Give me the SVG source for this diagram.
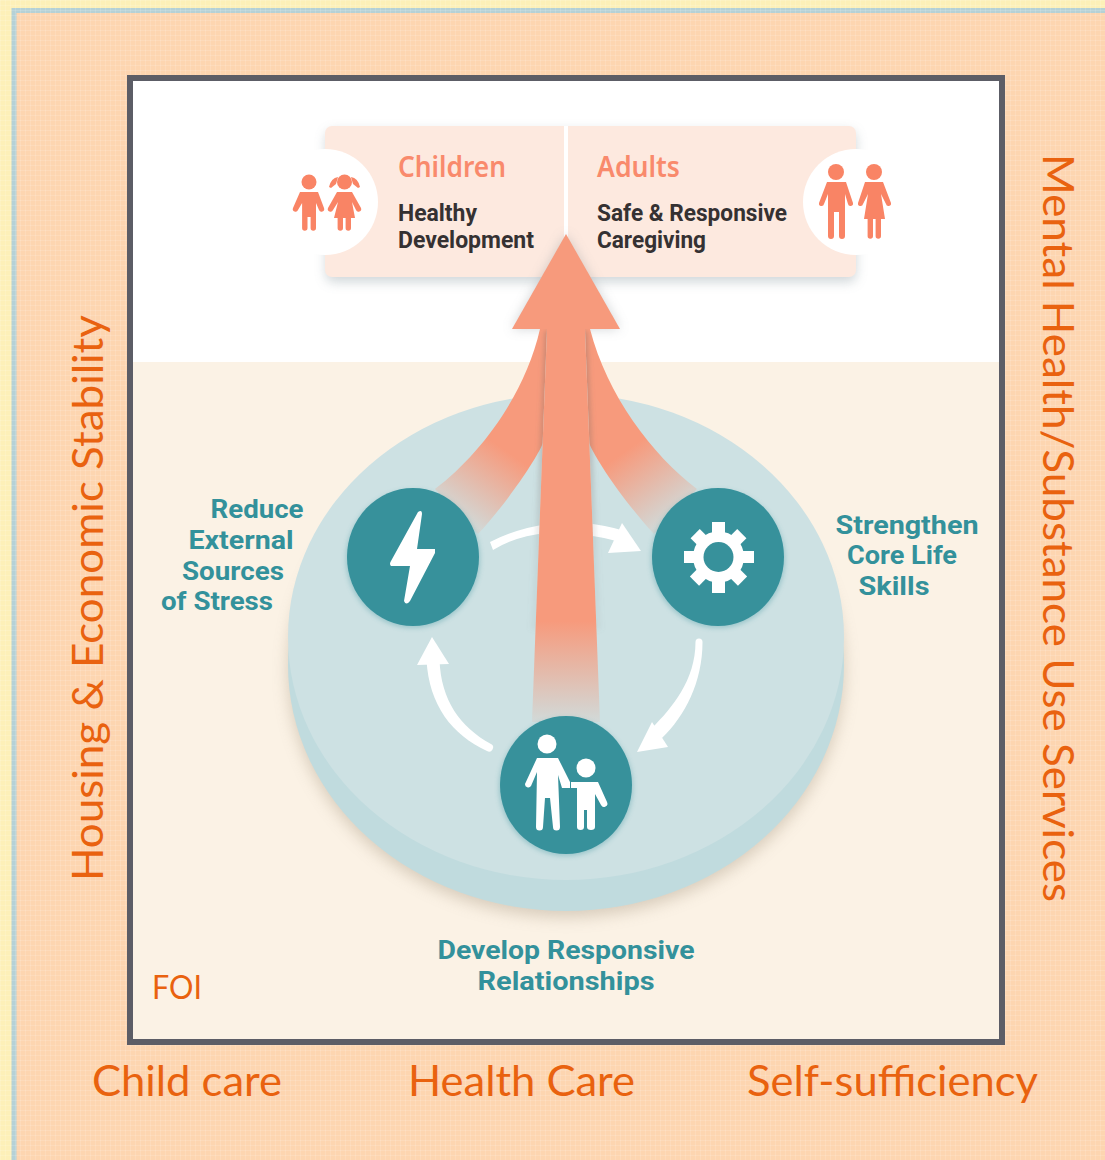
<svg xmlns="http://www.w3.org/2000/svg" width="1105" height="1160" viewBox="0 0 1105 1160">
<style>
.o{font-family:Lato,"Open Sans",sans-serif;fill:#e9620f;font-size:42px}
.t{font-family:Roboto,"Noto Sans",sans-serif;fill:#33919b;font-size:25.500px;font-weight:700;text-anchor:middle}
.h{font-family:"Noto Sans",Roboto,sans-serif;fill:#f98a6c;font-size:28px;font-weight:600}
.d{font-family:Roboto,"Noto Sans",sans-serif;fill:#353132;font-size:23px;font-weight:700}
.c{fill:#f98465}
.w{fill:#fff}
.n{fill:#37919b}
.ns{fill:#37919b;opacity:.35}
</style>
<defs>
<linearGradient id="gs" x1="0" y1="722" x2="0" y2="362" gradientUnits="userSpaceOnUse"><stop offset="0" stop-color="#f79a7c" stop-opacity=".1"/><stop offset=".28" stop-color="#f79a7c"/></linearGradient>
<linearGradient id="gh" x1="0" y1="329" x2="0" y2="722" gradientUnits="userSpaceOnUse"><stop offset="0" stop-color="#7f6a62" stop-opacity=".4"/><stop offset=".3" stop-color="#7f6a62" stop-opacity=".3"/><stop offset=".6" stop-color="#7f8a8c" stop-opacity=".12"/><stop offset="1" stop-color="#7f8a8c" stop-opacity=".05"/></linearGradient>
<linearGradient id="gl" x1="460" y1="515" x2="505" y2="450" gradientUnits="userSpaceOnUse"><stop offset="0" stop-color="#f79a7c" stop-opacity=".15"/><stop offset="1" stop-color="#f79a7c"/></linearGradient>
<linearGradient id="gr" x1="672" y1="515" x2="627" y2="450" gradientUnits="userSpaceOnUse"><stop offset="0" stop-color="#f79a7c" stop-opacity=".15"/><stop offset="1" stop-color="#f79a7c"/></linearGradient>
<filter id="sh" x="-10%" y="-10%" width="120%" height="125%"><feGaussianBlur stdDeviation="6"/></filter>
<filter id="sd" x="-10%" y="-10%" width="120%" height="125%"><feGaussianBlur stdDeviation="8"/></filter>
<filter id="sm" x="-20%" y="-20%" width="140%" height="140%"><feGaussianBlur stdDeviation="2.500"/></filter>
<pattern id="weave" width="5" height="5" patternUnits="userSpaceOnUse"><rect width="5" height="1" fill="#fff" opacity=".13"/><rect width="1" height="5" fill="#fff" opacity=".13"/></pattern>
</defs>

<rect width="1105" height="1160" fill="#fdf0b8"/>
<rect x="14" y="10.500" width="1100" height="1160" fill="#fdd5b0" stroke="#b5d1d6" stroke-width="5"/>
<rect width="1105" height="1160" fill="url(#weave)"/>

<g id="frame">
<rect x="130" y="78" width="872" height="964" fill="#fff"/>
<rect x="133" y="362" width="866" height="677" fill="#fbf2e5"/>
<rect x="130" y="78" width="872" height="964" fill="none" stroke="#5c5d66" stroke-width="6"/>
</g>

<g id="disc">
<ellipse cx="566" cy="671" rx="278" ry="246" fill="#9c8c76" opacity=".38" filter="url(#sd)"/>
<ellipse cx="566" cy="665" rx="278" ry="246" fill="#c0dbde"/>
<ellipse cx="566" cy="637" rx="278" ry="243" fill="#cde1e3"/>
</g>

<g id="outcomes">
<rect x="326" y="131" width="530" height="151" rx="7" fill="#8a9aa0" opacity=".4" filter="url(#sh)"/>
<rect x="325" y="126" width="531" height="151" rx="7" fill="#fde9df"/>
<circle cx="325" cy="202" r="53" fill="#fff"/>
<circle cx="856" cy="202" r="53" fill="#fff"/>
<rect x="564" y="126" width="4" height="125" fill="#fff"/>
<text class="h" x="398" y="177" textLength="108" lengthAdjust="spacingAndGlyphs">Children</text>
<text class="d" x="398" y="221" textLength="79" lengthAdjust="spacingAndGlyphs">Healthy</text>
<text class="d" x="398" y="248" textLength="136" lengthAdjust="spacingAndGlyphs">Development</text>
<text class="h" x="597" y="177" textLength="83" lengthAdjust="spacingAndGlyphs">Adults</text>
<text class="d" x="597" y="221" textLength="190" lengthAdjust="spacingAndGlyphs">Safe &amp; Responsive</text>
<text class="d" x="597" y="248" textLength="109" lengthAdjust="spacingAndGlyphs">Caregiving</text>
</g>

<g id="children-icon" class="c">
<circle cx="309" cy="182" r="7.500"/>
<path d="M300 192H318L324 208a2.500 2.500 0 0 1-5 2L316 203V228a2.700 2.700 0 0 1-5.400 0V217H307.500V228a2.700 2.700 0 0 1-5.400 0V203L298 210a2.500 2.500 0 0 1-5-2Z"/>
<circle cx="344.500" cy="182" r="7.500"/>
<path d="M329 187Q331 178 338 177L336 184L331 188ZM360 187Q358 178 351 177L353 184L358 188Z"/>
<path d="M337 192H352L361 208a2.500 2.500 0 0 1-5 2L352 202L355 218H351V228a2.700 2.700 0 0 1-5.400 0V218H343V228a2.700 2.700 0 0 1-5.400 0V218H334L338 202L333 210a2.500 2.500 0 0 1-5-2Z"/>
</g>

<g id="adults-icon" class="c">
<circle cx="836" cy="172" r="8"/>
<path d="M827 182H846L853 203a2.500 2.500 0 0 1-5 1L845 194V236a3 3 0 0 1-6 0V212H834V236a3 3 0 0 1-6 0V194L824 204a2.500 2.500 0 0 1-5-1Z"/>
<circle cx="874" cy="172" r="8"/>
<path d="M865 182H883L891 203a2.500 2.500 0 0 1-5 1L881 194L885 219H881V236a2.700 2.700 0 0 1-5.400 0V219H873V236a2.700 2.700 0 0 1-5.400 0V219H864L868 194L863 204a2.500 2.500 0 0 1-5-1Z"/>
</g>

<g id="connectors">
<path d="M512 329H620L566 234Z" fill="#90979c" opacity=".4" filter="url(#sh)"/>
<path d="M493 550Q515 536 548 533V524Q518 528 490 542Z" class="w"/>
<path d="M584 523Q605 525 625 531L622 543Q605 537 584 535Z" class="w"/>
<path d="M622 523L641 551L608 553Z" class="w"/>
<path d="M695.500 642C695.500 680 672 708 652 728L662 738C685 716 702.500 682 702.500 642A3.500 3.500 0 0 0 695.500 642Z" class="w"/>
<path d="M652 722L637 752L668 747Z" class="w"/>
<path d="M491 744C460 727 441 700 439.500 660L426.500 660C429 705 452 735 487 751A3.800 3.800 0 0 0 491 744Z" class="w"/>
<path d="M432 637L417 665L449 664Z" class="w"/>
<path d="M435 489C480 455 525 395 540 329H566V443H543C535 462 505 505 478 534Z" fill="url(#gl)"/>
<path d="M697 489C652 455 607 395 590 329H566V443H589C597 462 627 505 654 534Z" fill="url(#gr)"/>
<path d="M545 331H587L601 630H531Z" fill="url(#gh)" filter="url(#sm)"/>
<path d="M547 329H585L600 722H532Z" fill="#cde1e3"/>
<path d="M547 329H585L600 722H532Z" fill="url(#gs)"/>
<path d="M566 234L620 329H512Z" fill="#f79a7c"/>
</g>

<g id="node-stress">
<ellipse cx="413" cy="559" rx="67" ry="69" class="ns" filter="url(#sm)"/>
<ellipse cx="413" cy="557" rx="66" ry="69" class="n"/>
<path d="M418 512Q422 509 422 514L417 549H435V553L410 601Q406 606 404 601L410 566H391Q389 564 391 561Z" class="w"/>
</g>
<g id="node-skills">
<ellipse cx="718" cy="559" rx="67" ry="69" class="ns" filter="url(#sm)"/>
<ellipse cx="718" cy="557" rx="66" ry="69" class="n"/>
<circle cx="718.500" cy="557" r="20" fill="none" stroke="#fff" stroke-width="11"/>
<g class="w">
<rect x="712" y="522" width="13" height="71"/>
<rect x="684" y="551" width="70" height="12"/>
<rect x="712" y="524" width="13" height="67" transform="rotate(45 718.500 557)"/>
<rect x="712" y="524" width="13" height="67" transform="rotate(-45 718.500 557)"/>
</g>
<circle cx="718.500" cy="557" r="15" class="n"/>
</g>
<g id="node-relationships">
<ellipse cx="566" cy="787" rx="67" ry="69" class="ns" filter="url(#sm)"/>
<ellipse cx="566" cy="785" rx="66" ry="69" class="n"/>
<g class="w">
<circle cx="547" cy="744" r="9.500"/>
<path d="M537 758H558L570 782V788H562L558 775L560 827a3.500 3.500 0 0 1-7 0L550 798H545L543 827a3.500 3.500 0 0 1-7 0L537 772L531 786a3.300 3.300 0 0 1-6-2Z"/>
<circle cx="586" cy="768" r="9.500"/>
<path d="M571 782H598L607 802a3.200 3.200 0 0 1-6 3L595 794V827a4 3 0 0 1-8 0V810H584V827a3.500 3 0 0 1-7 0V788H571Z"/>
</g>
</g>

<g id="labels">
<text class="t" x="257" y="518" textLength="93" lengthAdjust="spacingAndGlyphs">Reduce</text>
<text class="t" x="241" y="549" textLength="105" lengthAdjust="spacingAndGlyphs">External</text>
<text class="t" x="233" y="580" textLength="102" lengthAdjust="spacingAndGlyphs">Sources</text>
<text class="t" x="217" y="610" textLength="112" lengthAdjust="spacingAndGlyphs">of Stress</text>
<text class="t" x="907" y="534" textLength="143" lengthAdjust="spacingAndGlyphs">Strengthen</text>
<text class="t" x="902" y="564" textLength="110" lengthAdjust="spacingAndGlyphs">Core Life</text>
<text class="t" x="894" y="595" textLength="71" lengthAdjust="spacingAndGlyphs">Skills</text>
<text class="t" x="566" y="959" textLength="257" lengthAdjust="spacingAndGlyphs">Develop Responsive</text>
<text class="t" x="566" y="990" textLength="177" lengthAdjust="spacingAndGlyphs">Relationships</text>
<text class="o" x="152" y="999" style="font-size:32px" textLength="50" lengthAdjust="spacingAndGlyphs">FOI</text>
<text class="o" x="92" y="1096" textLength="190" lengthAdjust="spacingAndGlyphs">Child care</text>
<text class="o" x="408" y="1096" textLength="227" lengthAdjust="spacingAndGlyphs">Health Care</text>
<text class="o" x="747" y="1096" textLength="291" lengthAdjust="spacingAndGlyphs">Self-sufficiency</text>
<text class="o" transform="translate(103 881) rotate(-90)" textLength="566" lengthAdjust="spacingAndGlyphs">Housing &amp; Economic Stability</text>
<text class="o" transform="translate(1043 154) rotate(90)" textLength="748" lengthAdjust="spacingAndGlyphs">Mental Health/Substance Use Services</text>
</g>
</svg>
